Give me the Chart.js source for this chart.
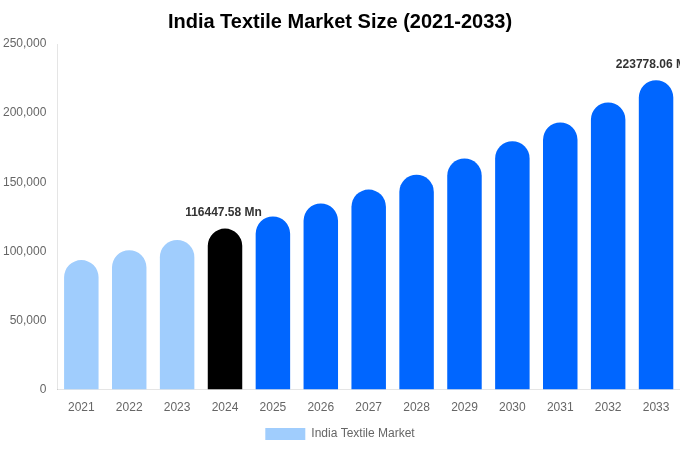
<!DOCTYPE html>
<html>
<head>
<meta charset="utf-8">
<script src="https://cdn.jsdelivr.net/npm/chart.js@4/dist/chart.umd.min.js"></script>
<style>
  html, body { margin: 0; padding: 0; background: #fff; }
  #wrap { width: 680px; height: 450px; }
</style>
</head>
<body>
<div id="wrap"><canvas id="marketChart"></canvas></div>
<script>
// India textile market size, USD Mn
const years = ['2021', '2022', '2023', '2024', '2025', '2026', '2027',
               '2028', '2029', '2030', '2031', '2032', '2033'];
const marketSize = [93700, 100800, 108300, 116447.58, 125200, 134600, 144700,
                    155500, 167200, 179700, 193200, 207700, 223778.06];
const labelledYears = ['2024', '2033'];

const pastColor = '#a0cdfd';
const baseColor = '#000000';
const futureColor = '#0066ff';

const barColors = years.map(function(y) {
  if (y < '2024') return pastColor;
  if (y === '2024') return baseColor;
  return futureColor;
});

// draws the value callouts above the chosen bars
const valueLabels = {
  id: 'valueLabels',
  afterDatasetsDraw(chart) {
    const ctx = chart.ctx;
    const meta = chart.getDatasetMeta(0);
    ctx.save();
    ctx.font = 'bold 12px "Liberation Sans", Arial, sans-serif';
    ctx.fillStyle = '#333333';
    ctx.textAlign = 'center';
    ctx.textBaseline = 'bottom';
    meta.data.forEach(function(bar, i) {
      if (labelledYears.indexOf(years[i]) === -1) return;
      ctx.fillText(marketSize[i].toFixed(2) + ' Mn', bar.x - 1.5, bar.y - 10);
    });
    ctx.restore();
  }
};

Chart.defaults.font.family = '"Liberation Sans", Arial, sans-serif';
Chart.defaults.color = '#666666';

const ctx = document.getElementById('marketChart').getContext('2d');
new Chart(ctx, {
  type: 'bar',
  data: {
    labels: years,
    datasets: [{
      label: 'India Textile Market',
      data: marketSize,
      backgroundColor: barColors,
      borderRadius: { topLeft: 18, topRight: 18 },
      borderSkipped: 'bottom'
    }]
  },
  options: {
    responsive: true,
    maintainAspectRatio: false,
    animation: false,
    plugins: {
      title: {
        display: true,
        text: 'India Textile Market Size (2021-2033)',
        color: '#000000',
        font: { size: 20, weight: 'bold' },
        padding: { top: 10, bottom: 10 }
      },
      legend: {
        position: 'bottom',
        labels: {
          boxWidth: 40,
          boxHeight: 12,
          color: '#666666',
          font: { size: 12 },
          generateLabels: function() {
            return [{
              text: 'India Textile Market',
              fillStyle: pastColor,
              strokeStyle: pastColor,
              lineWidth: 0,
              fontColor: '#666666',
              datasetIndex: 0
            }];
          }
        }
      },
      tooltip: { enabled: false }
    },
    scales: {
      x: {
        grid: { display: false },
        ticks: { color: '#666666', font: { size: 12 } }
      },
      y: {
        min: 0,
        max: 250000,
        ticks: {
          stepSize: 50000,
          color: '#666666',
          font: { size: 12 },
          callback: function(v) { return v.toLocaleString('en-US'); }
        },
        grid: { display: false }
      }
    }
  },
  plugins: [valueLabels]
});
</script>
</body>
</html>
